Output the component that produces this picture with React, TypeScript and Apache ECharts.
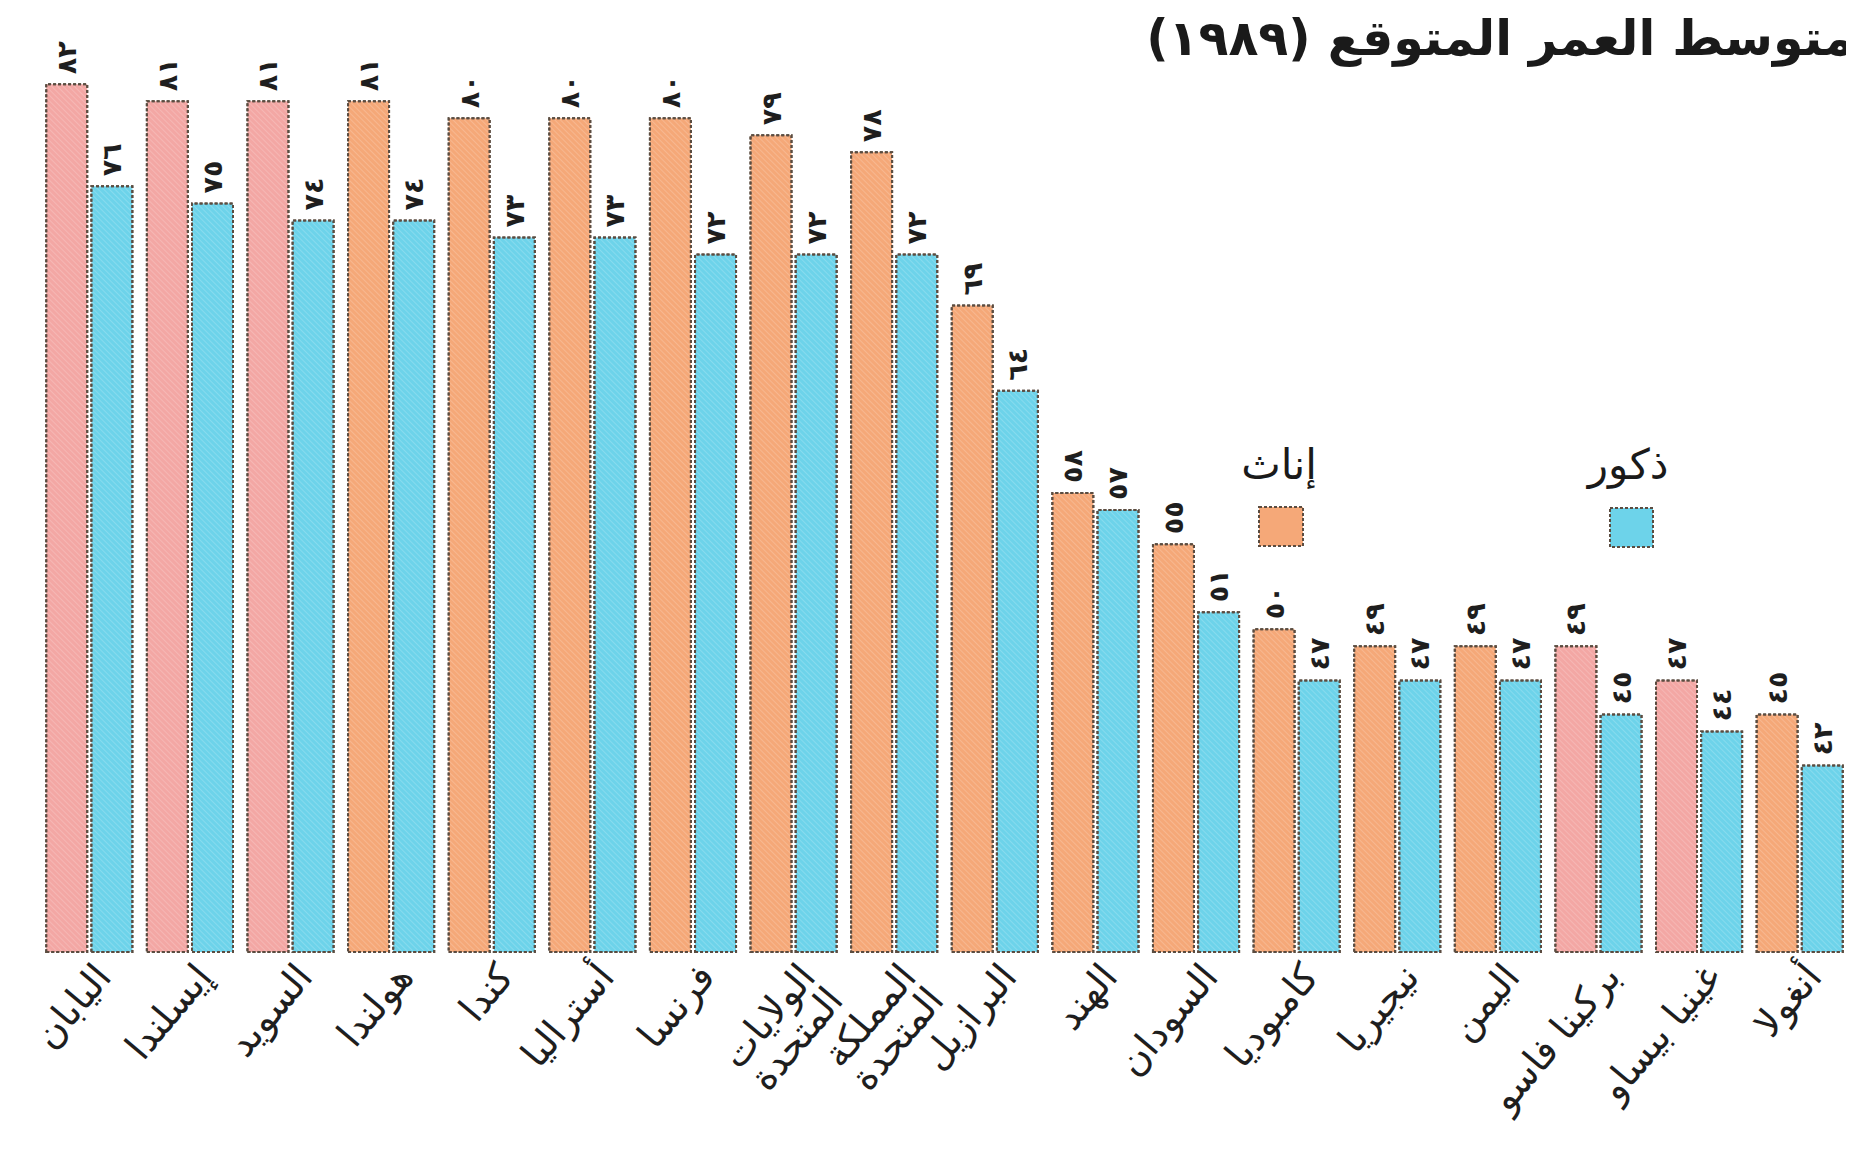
import React, { useEffect, useRef } from "react";
import * as echarts from "echarts";

const countries = [
  "اليابان",
  "إيسلندا",
  "السويد",
  "هولندا",
  "كندا",
  "أستراليا",
  "فرنسا",
  "الولايات\nالمتحدة",
  "المملكة\nالمتحدة",
  "البرازيل",
  "الهند",
  "السودان",
  "كامبوديا",
  "نيجيريا",
  "اليمن",
  "بركينا فاسو",
  "غينيا بيساو",
  "أنغولا",
];
const females = [82, 81, 81, 81, 80, 80, 80, 79, 78, 69, 58, 55, 50, 49, 49, 49, 47, 45];
const males = [76, 75, 74, 74, 73, 73, 72, 72, 72, 64, 57, 51, 47, 47, 47, 45, 44, 42];
const femaleLabel = "إناث";
const maleLabel = "ذكور";
const titleText = "متوسط العمر المتوقع (١٩٨٩)";

// print tint of the female bars (pinkish or orange)
const femaleTint = [1, 1, 1, 0, 0, 0, 0, 0, 0, 0, 0, 0, 0, 0, 0, 1, 1, 0];

const ORANGE = "#F5A878";
const PINK = "#F3A7A4";
const CYAN = "#6DD3EA";
const BORDER = "#5b4c40";
const FONT = "DejaVu Sans";

const toArabicDigits = (v: number | string) =>
  String(v).replace(/\d/g, (d) => "٠١٢٣٤٥٦٧٨٩"[Number(d)]);

export default function App() {
  const ref = useRef<HTMLDivElement>(null);

  useEffect(() => {
    if (!ref.current) return;
    const chart = echarts.init(ref.current, null, { renderer: "svg" });

    const valueLabel = {
      show: true,
      position: "top",
      rotate: 90,
      align: "left",
      verticalAlign: "middle",
      distance: 9,
      fontSize: 27,
      fontWeight: 600,
      fontFamily: FONT,
      color: "#1e1e1e",
      formatter: (p: any) => toArabicDigits(p.value),
    };

    const decal = {
      symbol: "rect",
      symbolSize: 1,
      dashArrayX: [[1, 0]],
      dashArrayY: [1, 3],
      rotation: Math.PI / 4,
      color: "rgba(255,255,255,0.18)",
    };

    chart.setOption({
      animation: false,
      backgroundColor: "#ffffff",
      aria: { enabled: true, decal: { show: true } },
      grid: { left: 39, right: 4, top: 15, bottom: 217, containLabel: false },
      xAxis: {
        type: "category",
        data: countries,
        axisLine: { show: false },
        axisTick: { show: false },
        axisLabel: {
          interval: 0,
          rotate: 50,
          margin: 6,
          fontSize: 38,
          lineHeight: 36,
          verticalAlign: "top",
          fontFamily: FONT,
          color: "#1e1e1e",
        },
      },
      yAxis: {
        type: "value",
        min: 31,
        max: 86,
        show: false,
        splitLine: { show: false },
      },
      series: [
        {
          name: femaleLabel,
          type: "bar",
          barWidth: 43,
          barGap: "5%",
          data: females.map((v, i) => ({
            value: v,
            itemStyle: { color: femaleTint[i] ? PINK : ORANGE },
          })),
          itemStyle: {
            borderColor: BORDER,
            borderWidth: 2,
            borderType: [3, 2],
            decal,
          },
          label: valueLabel,
        },
        {
          name: maleLabel,
          type: "bar",
          barWidth: 43,
          barGap: "5%",
          data: males,
          itemStyle: {
            color: CYAN,
            borderColor: BORDER,
            borderWidth: 2,
            borderType: [3, 2],
            decal,
          },
          label: valueLabel,
        },
      ],
      graphic: [
        {
          type: "text",
          right: 0,
          top: 14,
          style: {
            text: titleText,
            font: `bold 49px "${FONT}"`,
            fill: "#1a1a1a",
          },
        },
        {
          type: "text",
          x: 1279,
          y: 464,
          style: {
            text: femaleLabel,
            font: `42px "${FONT}"`,
            fill: "#1a1a1a",
            align: "center",
            verticalAlign: "middle",
          },
        },
        {
          type: "rect",
          shape: { x: 1259, y: 507, width: 44, height: 39 },
          style: { fill: ORANGE, stroke: BORDER, lineWidth: 2, lineDash: [3, 2] },
        },
        {
          type: "text",
          x: 1628,
          y: 464,
          style: {
            text: maleLabel,
            font: `42px "${FONT}"`,
            fill: "#1a1a1a",
            align: "center",
            verticalAlign: "middle",
          },
        },
        {
          type: "rect",
          shape: { x: 1610, y: 508, width: 43, height: 39 },
          style: { fill: CYAN, stroke: BORDER, lineWidth: 2, lineDash: [3, 2] },
        },
      ],
    });

    return () => chart.dispose();
  }, []);

  return <div ref={ref} style={{ width: 1854, height: 1169, margin: -8 }} />;
}
